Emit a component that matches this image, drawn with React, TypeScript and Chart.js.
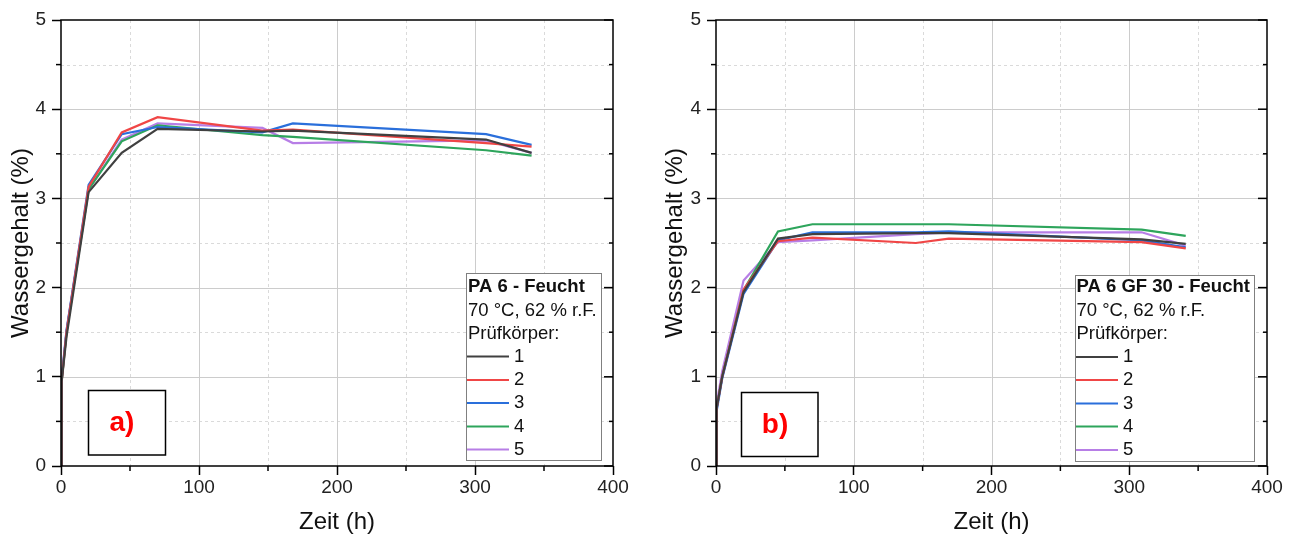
import React, { useEffect, useRef } from "react";
import { Chart, registerables } from "chart.js";
Chart.register(...registerables);

const FONT = "'Liberation Sans', Arial, sans-serif";

// ---- data: chart a) PA 6 - Feucht ----
const timeA = [0, 0.5, 4, 20, 44, 70, 146, 168, 308, 341];
const a1 = [0, 0.95, 1.45, 3.07, 3.51, 3.78, 3.75, 3.76, 3.66, 3.51];
const a2 = [0, 0.95, 1.5, 3.13, 3.74, 3.91, 3.76, 3.77, 3.62, 3.58];
const a3 = [0, 0.97, 1.52, 3.15, 3.72, 3.8, 3.74, 3.84, 3.72, 3.6];
const a4 = [0, 0.95, 1.5, 3.1, 3.64, 3.82, 3.71, 3.69, 3.54, 3.48];
const a5 = [0, 1.0, 1.52, 3.1, 3.66, 3.84, 3.79, 3.62, 3.65, 3.51];

// ---- data: chart b) PA 6 GF 30 - Feucht ----
const timeB = [0, 0.5, 4.5, 20, 45, 70, 145, 169, 309, 341];
const b1 = [0, 0.65, 1.0, 1.95, 2.55, 2.6, 2.61, 2.61, 2.54, 2.49];
const b2 = [0, 0.65, 1.0, 1.98, 2.52, 2.56, 2.5, 2.55, 2.51, 2.44];
const b3 = [0, 0.62, 0.98, 1.93, 2.53, 2.62, 2.62, 2.63, 2.53, 2.45];
const b4 = [0, 0.65, 1.0, 1.97, 2.63, 2.71, 2.71, 2.71, 2.65, 2.58];
const b5 = [0, 0.7, 1.06, 2.08, 2.51, 2.53, 2.6, 2.62, 2.62, 2.47];

const seriesLabels = ["1", "2", "3", "4", "5"];
const seriesColors = ["#404040", "#f04646", "#2a6fdb", "#2ea55c", "#b77ee6"];

const X_MAJOR = [0, 100, 200, 300, 400];
const X_MINOR = [50, 150, 250, 350];
const Y_MAJOR = [0, 1, 2, 3, 4, 5];
const Y_MINOR = [0.5, 1.5, 2.5, 3.5, 4.5];

const X_TITLE = "Zeit (h)";
const Y_TITLE = "Wassergehalt (%)";
const SUB1 = "70 °C, 62 % r.F.";
const SUB2 = "Prüfkörper:";

type Layout = {
  yAxisWidth: number;
  padRight: number;
  yTitlePad: number;
  legend: { x0: number; x1: number; y0: number; y1: number; textX: number; lineEnd: number; numX: number; titleY: number; rowY: number[] };
  ann: { x: number; y: number; w: number; h: number; cx: number; cy: number; text: string };
  title: string;
};

function decoPlugin(L: Layout) {
  return {
    id: "deco",
    beforeDatasetsDraw(chart: any) {
      const { ctx, chartArea: ca, scales } = chart;
      const x = scales.x, y = scales.y;
      ctx.save();
      ctx.lineWidth = 1;
      ctx.strokeStyle = "#dadada";
      ctx.setLineDash([3, 3]);
      for (const v of X_MINOR) {
        const p = Math.round(x.getPixelForValue(v)) + 0.5;
        ctx.beginPath(); ctx.moveTo(p, ca.top); ctx.lineTo(p, ca.bottom); ctx.stroke();
      }
      for (const v of Y_MINOR) {
        const p = Math.round(y.getPixelForValue(v)) + 0.5;
        ctx.beginPath(); ctx.moveTo(ca.left, p); ctx.lineTo(ca.right, p); ctx.stroke();
      }
      ctx.setLineDash([]);
      ctx.strokeStyle = "#cccccc";
      for (const v of X_MAJOR.slice(1, -1)) {
        const p = Math.round(x.getPixelForValue(v)) + 0.5;
        ctx.beginPath(); ctx.moveTo(p, ca.top); ctx.lineTo(p, ca.bottom); ctx.stroke();
      }
      for (const v of Y_MAJOR.slice(1, -1)) {
        const p = Math.round(y.getPixelForValue(v)) + 0.5;
        ctx.beginPath(); ctx.moveTo(ca.left, p); ctx.lineTo(ca.right, p); ctx.stroke();
      }
      ctx.restore();
    },
    afterDatasetsDraw(chart: any) {
      const { ctx, chartArea: ca, scales } = chart;
      const x = scales.x, y = scales.y;
      ctx.save();
      // frame
      ctx.strokeStyle = "#000";
      ctx.lineWidth = 1.5;
      ctx.strokeRect(ca.left, ca.top, ca.right - ca.left, ca.bottom - ca.top);
      // minor outward ticks left & bottom, inward ticks right
      for (const v of Y_MINOR) {
        const p = y.getPixelForValue(v);
        ctx.beginPath(); ctx.moveTo(ca.left - 5, p); ctx.lineTo(ca.left, p); ctx.stroke();
        ctx.beginPath(); ctx.moveTo(ca.right - 4, p); ctx.lineTo(ca.right, p); ctx.stroke();
      }
      for (const v of Y_MAJOR) {
        const p = y.getPixelForValue(v);
        ctx.beginPath(); ctx.moveTo(ca.right - 9, p); ctx.lineTo(ca.right, p); ctx.stroke();
      }
      for (const v of X_MINOR) {
        const p = x.getPixelForValue(v);
        ctx.beginPath(); ctx.moveTo(p, ca.bottom); ctx.lineTo(p, ca.bottom + 5); ctx.stroke();
      }
      // legend box
      const G = L.legend;
      ctx.fillStyle = "#fff";
      ctx.fillRect(G.x0, G.y0, G.x1 - G.x0, G.y1 - G.y0);
      ctx.strokeStyle = "#808080";
      ctx.lineWidth = 1;
      ctx.strokeRect(G.x0 + 0.5, G.y0 + 0.5, G.x1 - G.x0, G.y1 - G.y0);
      ctx.fillStyle = "#111";
      ctx.textBaseline = "middle";
      ctx.textAlign = "left";
      ctx.font = `bold 18.5px ${FONT}`;
      ctx.fillText(L.title, G.textX, G.titleY);
      ctx.font = `18.5px ${FONT}`;
      ctx.fillText(SUB1, G.textX, G.titleY + 23.5);
      ctx.fillText(SUB2, G.textX, G.titleY + 47);
      chart.data.datasets.forEach((ds: any, i: number) => {
        const ry = G.rowY[i];
        ctx.strokeStyle = ds.borderColor;
        ctx.lineWidth = 2;
        ctx.beginPath(); ctx.moveTo(G.x0 + 1, ry); ctx.lineTo(G.lineEnd, ry); ctx.stroke();
        ctx.fillStyle = "#111";
        ctx.fillText(ds.label, G.numX, ry);
      });
      // annotation box
      const A = L.ann;
      ctx.fillStyle = "#fff";
      ctx.fillRect(A.x, A.y, A.w, A.h);
      ctx.strokeStyle = "#000";
      ctx.lineWidth = 1.5;
      ctx.strokeRect(A.x, A.y, A.w, A.h);
      ctx.fillStyle = "#ff0000";
      ctx.font = `bold 28px ${FONT}`;
      ctx.textAlign = "center";
      ctx.fillText(A.text, A.cx, A.cy);
      ctx.restore();
    },
  };
}

function makeConfig(time: number[], series: number[][], L: Layout): any {
  return {
    type: "line",
    data: {
      datasets: series.map((vals, i) => ({
        label: seriesLabels[i],
        data: vals.map((v, j) => ({ x: time[j], y: v })),
        borderColor: seriesColors[i],
        backgroundColor: seriesColors[i],
        borderWidth: 2.2,
        pointRadius: 0,
        tension: 0,
      })),
    },
    options: {
      animation: false,
      responsive: false,
      events: [],
      layout: { padding: { top: 20, right: L.padRight, bottom: 0, left: 0 } },
      plugins: { legend: { display: false }, tooltip: { enabled: false } },
      scales: {
        x: {
          type: "linear",
          min: 0,
          max: 400,
          ticks: { stepSize: 100, font: { family: FONT, size: 19 }, color: "#222", padding: 1, maxRotation: 0 },
          grid: { drawOnChartArea: false, drawTicks: true, tickLength: 9, tickColor: "#000", tickWidth: 1.5 },
          border: { display: false },
          title: { display: true, text: X_TITLE, font: { family: FONT, size: 24 }, color: "#111", padding: { top: 0, bottom: 1.5 } },
          afterFit: (s: any) => { s.height = 72; },
        },
        y: {
          type: "linear",
          min: 0,
          max: 5,
          ticks: { stepSize: 1, font: { family: FONT, size: 19 }, color: "#222", padding: 6 },
          grid: { drawOnChartArea: false, drawTicks: true, tickLength: 9, tickColor: "#000", tickWidth: 1.5 },
          border: { display: false },
          title: { display: true, text: Y_TITLE, font: { family: FONT, size: 24 }, color: "#111", padding: { top: L.yTitlePad, bottom: 0 } },
          afterFit: (s: any) => { s.width = L.yAxisWidth; },
        },
      },
    },
    plugins: [decoPlugin(L)],
  };
}

const layoutA: Layout = {
  yAxisWidth: 61,
  padRight: 34,
  yTitlePad: 7,
  title: "PA 6 - Feucht",
  legend: { x0: 466, x1: 601, y0: 273, y1: 460, textX: 468, lineEnd: 509, numX: 514, titleY: 287, rowY: [356.5, 380, 403, 426.5, 449.5] },
  ann: { x: 88.5, y: 390.5, w: 77, h: 64.5, cx: 122, cy: 423, text: "a)" },
};

const layoutB: Layout = {
  yAxisWidth: 69,
  padRight: 27,
  yTitlePad: 14,
  title: "PA 6 GF 30 - Feucht",
  legend: { x0: 428, x1: 607, y0: 275, y1: 461, textX: 429.5, lineEnd: 471, numX: 476, titleY: 287, rowY: [357, 380, 403.5, 426.5, 450] },
  ann: { x: 94.5, y: 392.5, w: 76.5, h: 64, cx: 128, cy: 425, text: "b)" },
};

function ChartCanvas({ left, cfg }: { left: number; cfg: () => any }) {
  const ref = useRef<HTMLCanvasElement | null>(null);
  useEffect(() => {
    if (!ref.current) return;
    const c = new Chart(ref.current, cfg());
    return () => c.destroy();
  }, []);
  return (
    <canvas
      ref={ref}
      width={647}
      height={538}
      style={{ position: "absolute", left, top: 0, width: 647, height: 538, display: "block" }}
    />
  );
}

export default function App() {
  return (
    <div style={{ position: "absolute", left: 0, top: 0, width: 1294, height: 538, background: "#fff", overflow: "hidden" }}>
      <ChartCanvas left={0} cfg={() => makeConfig(timeA, [a1, a2, a3, a4, a5], layoutA)} />
      <ChartCanvas left={647} cfg={() => makeConfig(timeB, [b1, b2, b3, b4, b5], layoutB)} />
    </div>
  );
}
